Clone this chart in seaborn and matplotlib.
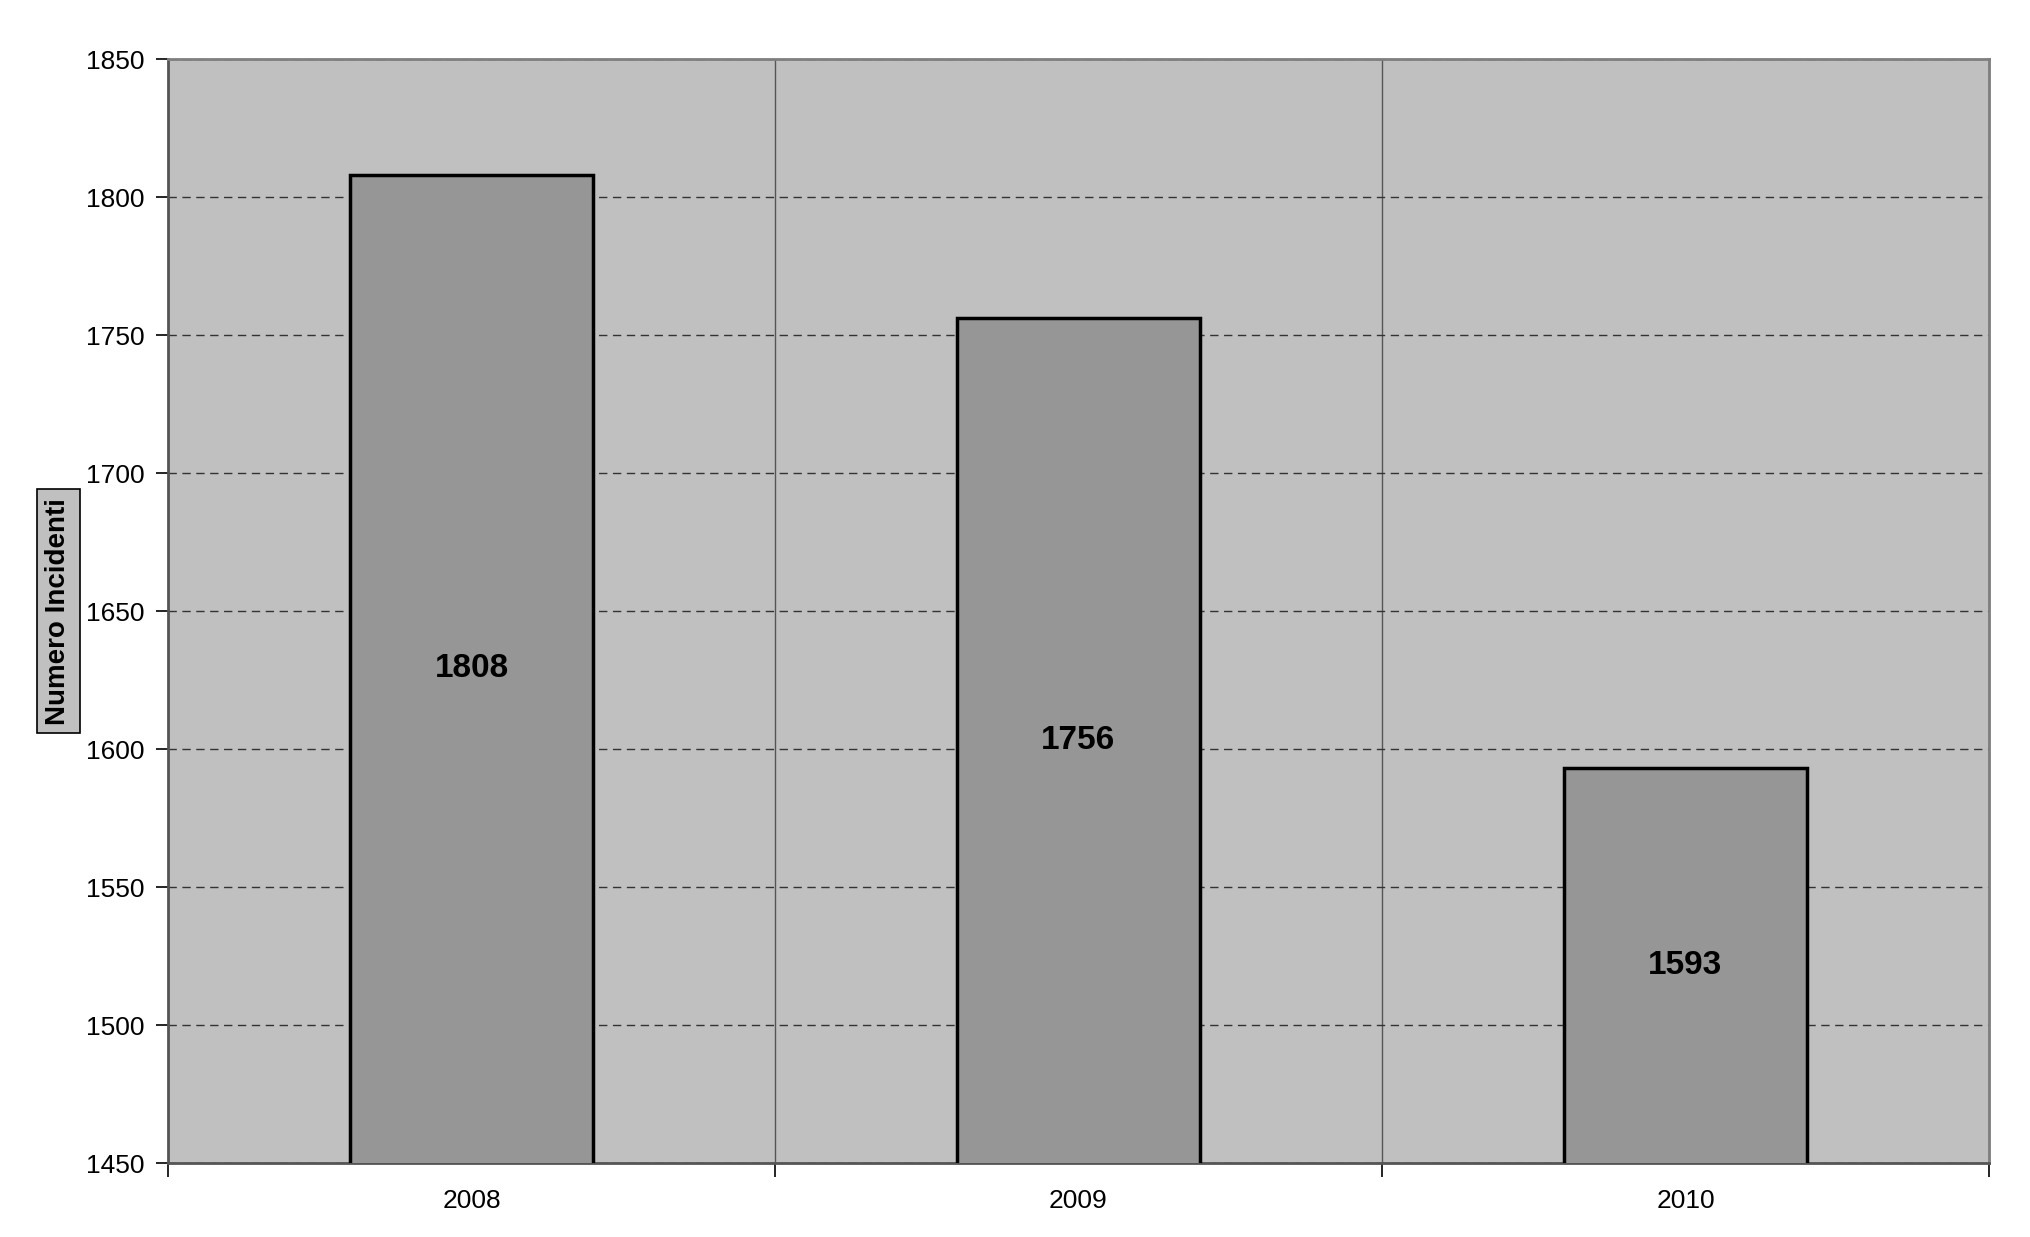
import matplotlib
matplotlib.use("Agg")
import matplotlib.pyplot as plt
import seaborn as sns
import pandas as pd

# Data
anni = ["2008", "2009", "2010"]
incidenti = [1808, 1756, 1593]
y_ticks = [1450, 1500, 1550, 1600, 1650, 1700, 1750, 1800, 1850]

df = pd.DataFrame({"Anno": anni, "Incidenti": incidenti})

sns.set_style("white")
plt.rcParams["font.family"] = ["Liberation Sans", "DejaVu Sans"]
plt.rcParams["text.color"] = "black"
plt.rcParams["xtick.color"] = "black"
plt.rcParams["ytick.color"] = "black"

fig = plt.figure(figsize=(20.31, 12.37), dpi=100)
ax = fig.add_axes([0.0827, 0.0598, 0.8966, 0.8925])
ax.set_facecolor("#c0c0c0")

sns.barplot(
    data=df,
    x="Anno",
    y="Incidenti",
    color="#969696",
    saturation=1,
    width=0.4,
    edgecolor="black",
    linewidth=2.5,
    ax=ax,
    zorder=3,
)

ax.set_ylim(y_ticks[0], y_ticks[-1])
ax.set_xlim(-0.5, len(anni) - 0.5)
ax.set_yticks(y_ticks)
ax.tick_params(axis="y", labelsize=19, length=9, width=1.2, direction="out", left=True, pad=8)

# x ticks: labels at centers, tick marks at category boundaries
ax.set_xticks(range(len(anni)))
ax.set_xticklabels(anni)
ax.tick_params(axis="x", which="major", length=0, labelsize=19, pad=19)
ax.set_xticks([i - 0.5 for i in range(len(anni) + 1)], minor=True)
ax.tick_params(axis="x", which="minor", length=10, width=1.2, direction="out", bottom=True)

# grid
ax.yaxis.grid(True, linestyle=(0, (6, 4)), color="#333333", linewidth=1.0, zorder=1)
ax.xaxis.grid(True, which="minor", linestyle="-", color="#555555", linewidth=1.0, zorder=1)
ax.xaxis.grid(False, which="major")
ax.set_axisbelow(True)

for side in ["left", "right", "top", "bottom"]:
    ax.spines[side].set_visible(True)
    ax.spines[side].set_color("#7f7f7f")
    ax.spines[side].set_linewidth(2)
ax.spines["left"].set_color("#555555")
ax.spines["bottom"].set_color("#555555")

# value labels centred in the visible part of each bar
for i, v in enumerate(incidenti):
    ax.text(i, (y_ticks[0] + v) / 2, str(v), ha="center", va="center",
            fontsize=24, fontweight="bold", color="black", zorder=5)

ax.set_xlabel("")
ax.set_ylabel("")
fig.text(0.0287, 0.506, "Numero Incidenti", rotation=90, ha="center", va="center",
         fontsize=20, fontweight="bold", color="black",
         bbox=dict(boxstyle="square,pad=0.3", facecolor="#c0c0c0", edgecolor="black", linewidth=1.2))

fig.savefig("out.png", dpi=100)
